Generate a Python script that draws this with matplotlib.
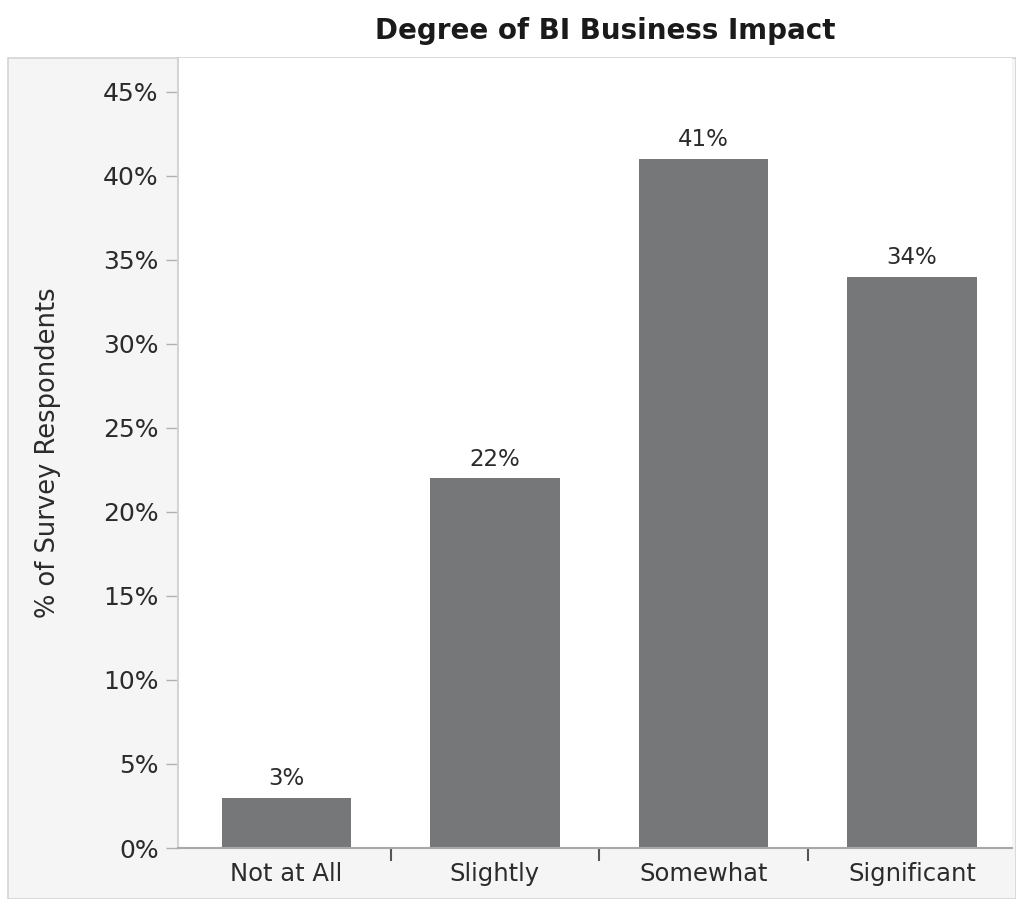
import matplotlib.pyplot as plt
from matplotlib.patches import Rectangle
from matplotlib.ticker import FuncFormatter

categories = ["Not at All", "Slightly", "Somewhat", "Significant"]
values = [3, 22, 41, 34]
y_ticks = [0, 5, 10, 15, 20, 25, 30, 35, 40, 45]

BAR_COLOR = "#767779"
TEXT_COLOR = "#2b2b2b"
FRAME_COLOR = "#d4d4d4"
PANEL_COLOR = "#f5f5f5"

fig = plt.figure(figsize=(10.16, 8.99), dpi=100)
fig.patch.set_facecolor("white")

# light gray panel behind axis labels, with a thin border
fig.add_artist(Rectangle((8 / 1016, 0), 1 - 8 / 1016, 1 - 58 / 899,
                         transform=fig.transFigure, facecolor=PANEL_COLOR,
                         edgecolor=FRAME_COLOR, linewidth=1.2, zorder=0))

ax = fig.add_axes([178 / 1016, 51 / 899, (1012 - 178) / 1016, (848 - 58) / 899])
ax.set_facecolor("white")

x = list(range(len(categories)))
ax.bar(x, values, width=0.62, color=BAR_COLOR, zorder=2)

for xi, v in zip(x, values):
    ax.text(xi, v + 0.45, f"{v}%", ha="center", va="bottom",
            fontsize=16.5, color=TEXT_COLOR)

ax.set_xlim(-0.52, 3.48)
ax.set_ylim(0, 47)
ax.set_yticks(y_ticks)
ax.yaxis.set_major_formatter(FuncFormatter(lambda v, _: f"{v:.0f}%"))
ax.tick_params(axis="y", labelsize=18, labelcolor=TEXT_COLOR, color="#b0b0b0",
               length=9, width=1, pad=5)

# category labels centered under bars, separator ticks between them
ax.set_xticks([0.5, 1.5, 2.5])
ax.set_xticklabels([])
ax.tick_params(axis="x", direction="out", length=9, width=1.5, color="#555555")
for xi, name in zip(x, categories):
    ax.text(xi, -0.018, name, transform=ax.get_xaxis_transform(),
            ha="center", va="top", fontsize=17.5, color=TEXT_COLOR)

for side in ["top", "right"]:
    ax.spines[side].set_visible(False)
ax.spines["left"].set_color(FRAME_COLOR)
ax.spines["left"].set_linewidth(1.5)
ax.spines["bottom"].set_color("#a8a8a8")
ax.spines["bottom"].set_linewidth(1.5)

ax.set_ylabel("% of Survey Respondents", fontsize=18.5, color=TEXT_COLOR, labelpad=30)

fig.text(605 / 1016, 1 - 31 / 899, "Degree of BI Business Impact",
         ha="center", va="center", fontsize=20, fontweight="bold", color="#1a1a1a")

fig.savefig("out.png", dpi=100)
